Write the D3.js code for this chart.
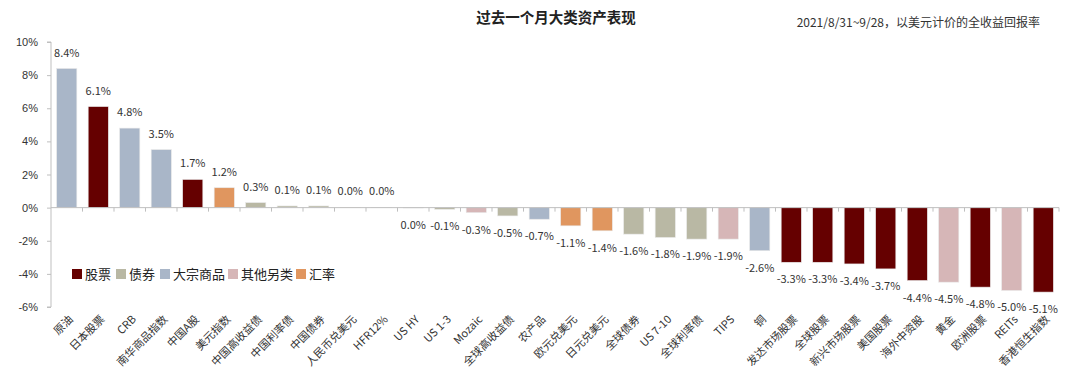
<!DOCTYPE html>
<html>
<head>
<meta charset="utf-8">
<script src="https://cdn.jsdelivr.net/npm/d3@7"></script>
<style>
  body { margin: 0; background: #fff; }
  svg { font-family: "Noto Sans CJK SC", "Noto Sans", sans-serif; }
  .axis path, .axis line { stroke: #bfbfbf; }
  .axis text { fill: #333; font-size: 11px; }
</style>
</head>
<body>
<script>
// data
var names = ["原油","日本股票","CRB","南华商品指数","中国A股","美元指数","中国高收益债","中国利率债","中国债券","人民币兑美元","HFR12%","US HY","US 1-3","Mozaic","全球高收益债","农产品","欧元兑美元","日元兑美元","全球债券","US 7-10","全球利率债","TIPS","铜","发达市场股票","全球股票","新兴市场股票","美国股票","海外中资股","黄金","欧洲股票","REITs","香港恒生指数"];
var values = [8.4,6.1,4.8,3.5,1.7,1.2,0.3,0.1,0.1,0.02,0.01,-0.02,-0.1,-0.3,-0.5,-0.7,-1.1,-1.4,-1.6,-1.8,-1.9,-1.9,-2.6,-3.3,-3.3,-3.4,-3.7,-4.4,-4.5,-4.8,-5.0,-5.1];
var kinds = ["大宗商品","股票","大宗商品","大宗商品","股票","汇率","债券","债券","债券","汇率","其他另类","债券","债券","其他另类","债券","大宗商品","汇率","汇率","债券","债券","债券","其他另类","大宗商品","股票","股票","股票","股票","股票","其他另类","股票","其他另类","股票"];
var groups = ["股票","债券","大宗商品","其他另类","汇率"];
var groupColors = ["#650000","#b9b8a4","#a9b6c8","#d6b6b7","#e0965f"];
var yTicks = [-6,-4,-2,0,2,4,6,8,10];

var data = names.map(function(n, i) { return {name: n, value: values[i], kind: kinds[i]}; });

var W = 1080, H = 383;
var svg = d3.select("body").append("svg")
  .attr("width", W).attr("height", H);

var x = d3.scaleBand()
  .domain(names)
  .range([51, 1059])
  .paddingInner(0.36)
  .paddingOuter(0.18);

var y = d3.scaleLinear()
  .domain([-6, 10])
  .range([307, 42]);

var color = d3.scaleOrdinal().domain(groups).range(groupColors);

// title
svg.append("text")
  .attr("x", 556).attr("y", 23)
  .attr("text-anchor", "middle")
  .style("font-size", "14.5px")
  .style("font-weight", "bold")
  .style("fill", "#222")
  .text("过去一个月大类资产表现");

svg.append("text")
  .attr("x", 1040).attr("y", 27)
  .attr("text-anchor", "end")
  .style("font-size", "12px")
  .style("fill", "#333")
  .text("2021/8/31~9/28，以美元计价的全收益回报率");

// y axis
var yAxis = d3.axisLeft(y)
  .tickValues(yTicks)
  .tickSize(4)
  .tickPadding(9)
  .tickFormat(function(d) { return d + "%"; });

svg.append("g")
  .attr("class", "y axis")
  .attr("transform", "translate(51,0)")
  .call(yAxis)
  .call(function(g) { g.select(".domain").attr("d", "M-4," + y(10) + "H0V" + y(-6) + "H-4"); });

// bars
svg.selectAll(".bar")
  .data(data).enter()
  .append("rect")
  .attr("class", "bar")
  .attr("x", function(d) { return x(d.name); })
  .attr("width", x.bandwidth())
  .attr("y", function(d) { return y(Math.max(0, d.value)); })
  .attr("height", function(d) { return Math.abs(y(d.value) - y(0)); })
  .style("fill", function(d) { return color(d.kind); })
  .style("stroke", "#e8e8e8")
  .style("stroke-width", 0.6);

// zero line with ticks between categories
var zero = svg.append("g").attr("class", "axis");
zero.append("line")
  .attr("x1", 51).attr("x2", 1059)
  .attr("y1", y(0)).attr("y2", y(0));
zero.selectAll(".tk")
  .data(names).enter()
  .append("line")
  .attr("class", "tk")
  .attr("x1", function(d) { return x(d) + x.bandwidth() + x.step() * x.paddingInner() / 2; })
  .attr("x2", function(d) { return x(d) + x.bandwidth() + x.step() * x.paddingInner() / 2; })
  .attr("y1", y(0)).attr("y2", y(0) + 4);

// value labels
svg.selectAll(".val")
  .data(data).enter()
  .append("text")
  .attr("class", "val")
  .attr("x", function(d) { return x(d.name) + x.bandwidth() / 2; })
  .attr("y", function(d) { return d.value >= 0 ? y(d.value) - 12 : y(d.value) + 21; })
  .attr("text-anchor", "middle")
  .style("font-size", "11px")
  .style("fill", "#333")
  .text(function(d) { return d.value.toFixed(1).replace("-0.0", "0.0") + "%"; });

// category labels
svg.selectAll(".cat")
  .data(names).enter()
  .append("text")
  .attr("class", "cat")
  .attr("transform", function(d) {
    return "translate(" + (x(d) + x.bandwidth() / 2 + 7) + ",320) rotate(-45)";
  })
  .attr("text-anchor", "end")
  .style("font-size", "11px")
  .style("fill", "#333")
  .text(function(d) { return d; });

// legend
var legX = [72, 116, 160, 228, 296];
var legend = svg.selectAll(".legend")
  .data(groups).enter()
  .append("g")
  .attr("class", "legend")
  .attr("transform", function(d, i) { return "translate(" + legX[i] + ",269)"; });

legend.append("rect")
  .attr("width", 10).attr("height", 10)
  .style("fill", function(d) { return color(d); });

legend.append("text")
  .attr("x", 13).attr("y", 10)
  .style("font-size", "13px")
  .style("fill", "#222")
  .text(function(d) { return d; });
</script>
</body>
</html>
